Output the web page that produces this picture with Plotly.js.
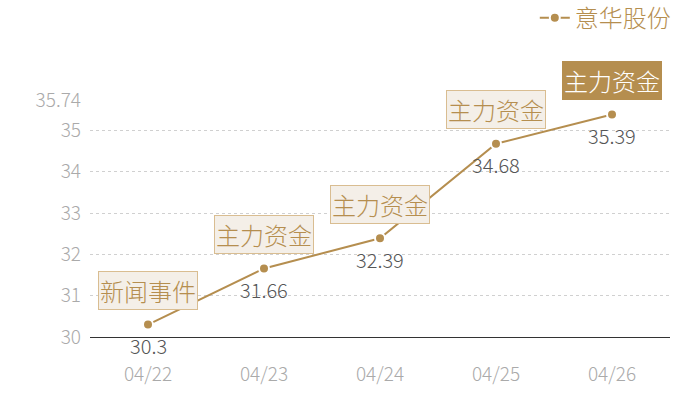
<!DOCTYPE html>
<html><head><meta charset="utf-8">
<script src="https://cdn.plot.ly/plotly-3.0.1.min.js"></script>
<style>body{margin:0;background:#fff}#c{width:700px;height:400px}</style>
</head><body><div id="c"></div>
<script>
const dates = ['04/22','04/23','04/24','04/25','04/26'];
const prices = [30.3, 31.66, 32.39, 34.68, 35.39];
const events = ['新闻事件','主力资金','主力资金','主力资金','主力资金'];
const highlighted = [false,false,false,false,true];
const yTicks = [30,31,32,33,34,35,35.74];
const seriesName = '意华股份';

const font = '"Noto Sans CJK SC", "Noto Sans", sans-serif';
const brown = '#b58e4f';

const eventAnns = dates.map((d,i)=>({
  x:d, y:prices[i], xref:'x', yref:'y', showarrow:false, yshift:34,
  text:events[i],
  font:{family:font, size:24, weight:300, color: highlighted[i] ? '#ffffff' : '#b58e4f'},
  bgcolor: highlighted[i] ? '#b58e4f' : '#f4efe8',
  bordercolor: highlighted[i] ? '#b58e4f' : '#d9bd91',
  borderwidth:1, borderpad:1
}));
const valueAnns = dates.map((d,i)=>({
  x:d, y:prices[i], xref:'x', yref:'y', showarrow:false, yshift:-21,
  text:String(prices[i]), borderpad:0,
  font:{family:font, size:20, weight:300, color:'#555555'}
}));

Plotly.newPlot('c', [{
  x:dates, y:prices, type:'scatter', mode:'lines+markers', name:seriesName,
  line:{color:brown, width:2},
  marker:{color:brown, size:10, line:{color:'#ffffff', width:2}}
}], {
  width:700, height:400,
  margin:{l:90, r:30, t:100, b:63, autoexpand:false},
  paper_bgcolor:'#ffffff', plot_bgcolor:'#ffffff',
  font:{family:font},
  showlegend:true,
  legend:{x:1.01, xanchor:'right', y:1.44, yanchor:'top', orientation:'h',
    font:{family:font, size:24, weight:300, color:brown}, bgcolor:'rgba(0,0,0,0)'},
  xaxis:{type:'category', range:[-0.5,4.5], showgrid:false, zeroline:false,
    showline:true, linecolor:'#333333', linewidth:1,
    ticks:'', ticklabelstandoff:20,
    tickfont:{family:font, size:19, weight:300, color:'#aaaaaa'}},
  yaxis:{range:[30,35.74], tickvals:yTicks, ticktext:yTicks.map(String),
    showgrid:true, gridcolor:'#d0d0d0', griddash:'dot', gridwidth:1,
    zeroline:false, showline:false, ticks:'', ticklabelstandoff:8,
    tickfont:{family:font, size:19, weight:300, color:'#aaaaaa'}},
  annotations: eventAnns.concat(valueAnns)
}, {displayModeBar:false, staticPlot:true});
</script></body></html>
